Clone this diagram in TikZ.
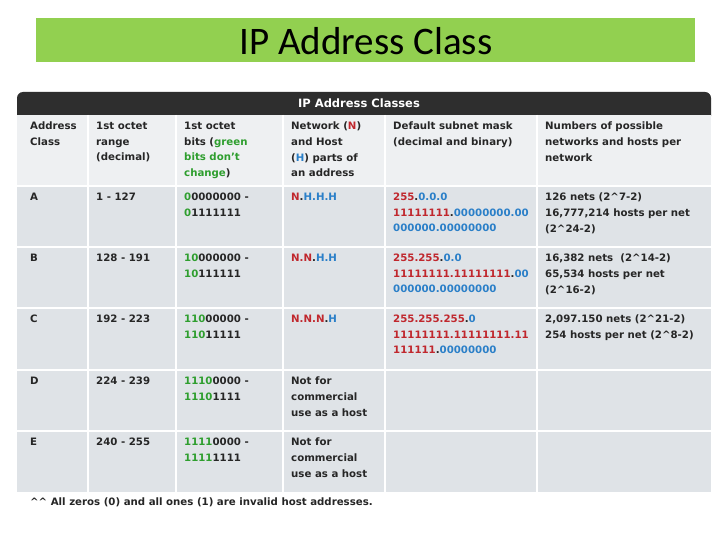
\documentclass[tikz,border=0pt]{standalone}
\usepackage{fontspec}
\setmainfont{DejaVu Sans}
\newfontfamily\titlefont{Carlito}
\definecolor{tgreen}{HTML}{92D050}
\definecolor{rd}{HTML}{C0272D}
\definecolor{bl}{HTML}{2A7FC8}
\definecolor{gr}{HTML}{2E9E2E}
\definecolor{hdrow}{HTML}{EEF0F2}
\definecolor{rowbg}{HTML}{DFE3E7}
\definecolor{bar}{HTML}{2E2E2E}
\newcommand{\R}[1]{\textcolor{rd}{#1}}
\newcommand{\B}[1]{\textcolor{bl}{#1}}
\newcommand{\G}[1]{\textcolor{gr}{#1}}
\begin{document}
\begin{tikzpicture}[x=1pt,y=-1pt,
  cell/.style={anchor=north west,inner sep=0pt,align=left,font=\bfseries\fontsize{10.2}{15.6}\selectfont,text=black!85}]
\useasboundingbox (0,0) rectangle (720,540);
\fill[white] (0,0) rectangle (720,540);
\fill[tgreen] (36,18) rectangle (695,62);
\node[font=\titlefont\fontsize{39}{42}\selectfont] (title) at (366,41) {IP Address Class};
% table
\fill[bar,rounded corners=6pt] (17,92) rectangle (711,122);
\fill[hdrow] (17,115) rectangle (711,186);
\fill[rowbg] (17,186) rectangle (711,492);
\foreach \y in {186,247,308,370,431}{\draw[white,line width=1.5pt] (17,\y) -- (711,\y);}
\foreach \x in {88,176,283,385,537}{\draw[white,line width=1.5pt] (\x,115) -- (\x,492);}
\node[text=white,font=\bfseries\fontsize{11.5}{13}\selectfont] (cap) at (359,103) {IP Address Classes};
% header
\node[cell] (h1) at (30,122) {Address\\Class};
\node[cell] (h2) at (96,122) {1st octet\\range\\(decimal)};
\node[cell] (h3) at (184,122) {1st octet\\bits (\G{green}\\\G{bits don't}\\\G{change})};
\node[cell] (h4) at (291,122) {Network (\R{N})\\and Host\\(\B{H}) parts of\\an address};
\node[cell] (h5) at (393,122) {Default subnet mask\\(decimal and binary)};
\node[cell] (h6) at (545,122) {Numbers of possible\\networks and hosts per\\network};
% A
\node[cell] (a1) at (30,193) {A};
\node[cell] (a2) at (96,193) {1 - 127};
\node[cell] (a3) at (184,193) {\G{0}0000000 -\\\G{0}1111111};
\node[cell] (a4) at (291,193) {\R{N}.\B{H.H.H}};
\node[cell] (a5) at (393,193) {\R{255}.\B{0.0.0}\\\R{11111111}.\B{00000000.00}\\\B{000000.00000000}};
\node[cell] (a6) at (545,193) {126 nets (2\^{}7-2)\\16,777,214 hosts per net\\(2\^{}24-2)};
% B
\node[cell] (b1) at (30,254) {B};
\node[cell] (b2) at (96,254) {128 - 191};
\node[cell] (b3) at (184,254) {\G{10}000000 -\\\G{10}111111};
\node[cell] (b4) at (291,254) {\R{N.N}.\B{H.H}};
\node[cell] (b5) at (393,254) {\R{255.255}.\B{0.0}\\\R{11111111.11111111}.\B{00}\\\B{000000.00000000}};
\node[cell] (b6) at (545,254) {16,382 nets~ (2\^{}14-2)\\65,534 hosts per net\\(2\^{}16-2)};
% C
\node[cell] (c1) at (30,315) {C};
\node[cell] (c2) at (96,315) {192 - 223};
\node[cell] (c3) at (184,315) {\G{110}00000 -\\\G{110}11111};
\node[cell] (c4) at (291,315) {\R{N.N.N}.\B{H}};
\node[cell] (c5) at (393,315) {\R{255.255.255}.\B{0}\\\R{11111111.11111111.11}\\\R{111111}.\B{00000000}};
\node[cell] (c6) at (545,315) {2,097.150 nets (2\^{}21-2)\\254 hosts per net (2\^{}8-2)};
% D
\node[cell] (d1) at (30,377) {D};
\node[cell] (d2) at (96,377) {224 - 239};
\node[cell] (d3) at (184,377) {\G{1110}0000 -\\\G{1110}1111};
\node[cell] (d4) at (291,377) {Not for\\commercial\\use as a host};
% E
\node[cell] (e1) at (30,438) {E};
\node[cell] (e2) at (96,438) {240 - 255};
\node[cell] (e3) at (184,438) {\G{1111}0000 -\\\G{1111}1111};
\node[cell] (e4) at (291,438) {Not for\\commercial\\use as a host};
\node[cell] (foot) at (30,498) {\^{}\^{} All zeros (0) and all ones (1) are invalid host addresses.};
\end{tikzpicture}
\end{document}
